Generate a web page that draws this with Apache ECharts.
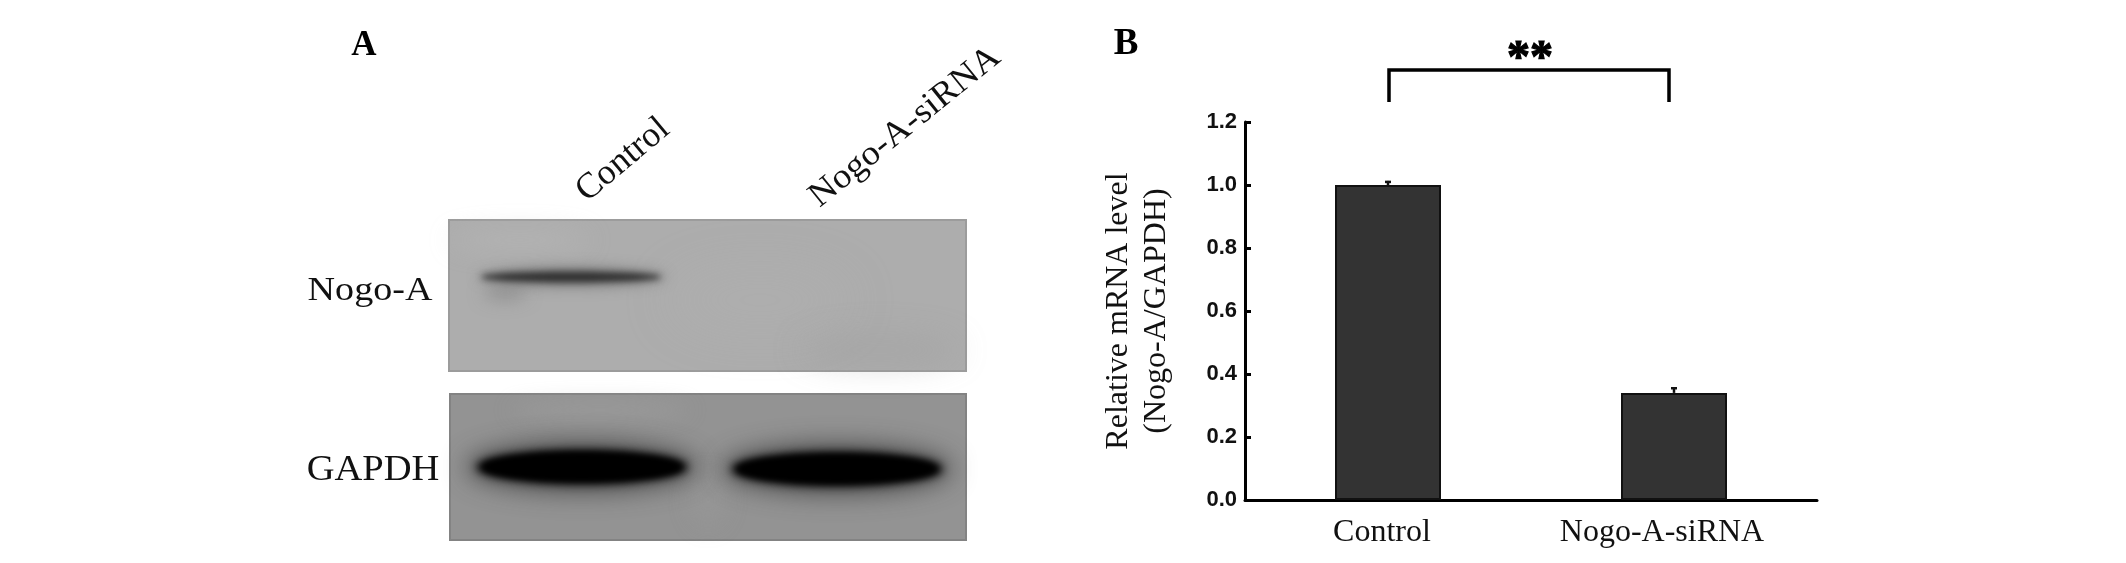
<!DOCTYPE html>
<html><head><meta charset="utf-8">
<style>html,body{margin:0;padding:0;background:#fff}#c{width:2126px;height:563px}</style>
<script src="https://cdn.jsdelivr.net/npm/echarts@6/dist/echarts.min.js"></script>
</head><body><div id="c"></div>
<script>
const categories = ['Control', 'Nogo-A-siRNA'];
const meanValues = [1.0, 0.34];
const errorTops = [1.013, 0.358];
const yTicks = ['0.0', '0.2', '0.4', '0.6', '0.8', '1.0', '1.2'];
const yAxisLines = ['Relative mRNA level', '(Nogo-A/GAPDH)'];

const serif = '"Liberation Serif","Times New Roman",serif';
const chart = echarts.init(document.getElementById('c'), null, {renderer: 'canvas'});

function txt(text, x, y, size, o) {
  o = o || {};
  const style = {text: text, fill: o.fill || '#111', align: 'center', verticalAlign: 'middle',
    font: (o.bold ? 'bold ' : '') + size + 'px ' + serif};
  if (o.stroke) { style.stroke = o.fill || '#111'; style.lineWidth = o.stroke; }
  return {type: 'text', x: x, y: y, rotation: o.rot || 0, scaleX: o.sx || 1, scaleY: 1, z: 20, style: style};
}
// Soft blot smear: the ellipse sits off-canvas and only its blurred shadow lands on the panel.
const OFF = 3000;
function blob(cx, cy, rx, ry, blur, color) {
  return {type: 'ellipse', z: 5, silent: true,
    shape: {cx: cx - OFF, cy: cy, rx: rx, ry: ry},
    style: {fill: '#000', shadowBlur: blur, shadowColor: color, shadowOffsetX: OFF}};
}
function panel(x, y, w, h, fill, edge) {
  return {type: 'rect', z: 1, silent: true, shape: {x: x, y: y, width: w, height: h},
    style: {fill: fill, stroke: edge, lineWidth: 2}};
}

const graphic = [
  panel(449, 220, 517, 151, '#adadad', '#9c9c9c'),
  panel(450, 394, 516, 146, '#939393', '#838383'),
  // mottling of the membranes
  blob(520, 240, 70, 10, 24, 'rgba(190,190,190,0.4)'),
  blob(760, 300, 90, 30, 50, 'rgba(180,180,180,0.3)'),
  blob(880, 350, 80, 16, 30, 'rgba(155,155,155,0.35)'),
  blob(600, 410, 90, 8, 20, 'rgba(165,165,165,0.45)'),
  blob(708, 500, 16, 26, 24, 'rgba(160,160,160,0.3)'),
  // Nogo-A band
  blob(505, 293, 22, 8, 16, 'rgba(130,130,130,0.55)'),
  blob(572, 277, 94, 11, 12, 'rgba(110,110,110,0.6)'),
  blob(571, 277, 90, 5.5, 6, 'rgba(45,45,45,0.95)'),
  // GAPDH bands
  blob(582, 467, 116, 25, 24, 'rgba(50,50,50,0.7)'),
  blob(837, 469, 115, 25, 24, 'rgba(50,50,50,0.7)'),
  blob(582, 467, 106, 17, 10, '#000'),
  blob(837, 469, 106, 17, 10, '#000'),
  blob(582, 467, 100, 14, 6, '#000'),
  blob(837, 469, 100, 14, 6, '#000'),
  // Panel texts
  txt('A', 364, 46, 35, {bold: true, fill: '#000'}),
  txt('B', 1126, 44, 37, {bold: true, fill: '#000'}),
  txt('Nogo-A', 370, 291, 34, {sx: 1.12}),
  txt('GAPDH', 373, 471, 36, {sx: 1.07}),
  txt('Control', 623, 160, 36, {rot: 40 * Math.PI / 180}),
  txt('Nogo-A-siRNA', 905, 127, 35, {rot: 39 * Math.PI / 180, sx: 1.05}),
  // Significance bracket
  {type: 'polyline', z: 20, silent: true,
    shape: {points: [[1389, 102], [1389, 70], [1669, 70], [1669, 102]]},
    style: {stroke: '#000', lineWidth: 3.5, fill: null}},
  txt('**', 1530, 60, 46, {bold: true, fill: '#000', stroke: 1.2})
];

chart.setOption({
  animation: false,
  backgroundColor: '#fff',
  graphic: graphic,
  grid: {left: 1245, top: 122, width: 572, height: 378, containLabel: false},
  xAxis: {
    type: 'category', data: categories,
    axisTick: {show: false},
    axisLine: {lineStyle: {color: '#000', width: 3}},
    axisLabel: {
      interval: 0, hideOverlap: false,
      margin: 17, color: '#111', fontFamily: serif, fontSize: 32,
      formatter: function (v, i) { return '{c' + i + '|' + v + '}'; },
      rich: {
        c0: {padding: [0, 12, 0, 0], fontFamily: serif, fontSize: 32, color: '#111'},
        c1: {padding: [0, 24, 0, 0], fontFamily: serif, fontSize: 32, color: '#111'}
      }
    }
  },
  yAxis: {
    type: 'value', min: 0, max: 1.2, interval: 0.2,
    name: yAxisLines.join('\n'), nameLocation: 'middle', nameRotate: 90, nameGap: 69,
    nameTextStyle: {fontFamily: serif, fontSize: 32, color: '#111', lineHeight: 38},
    splitLine: {show: false},
    axisLine: {show: true, lineStyle: {color: '#000', width: 3}},
    axisTick: {show: true, inside: true, length: 6, lineStyle: {color: '#000', width: 3}},
    axisLabel: {
      margin: 8, color: '#111', fontFamily: '"Liberation Sans",Arial,sans-serif', fontWeight: 'bold', fontSize: 22,
      formatter: function (v) { return yTicks[Math.round(v / 0.2)]; }
    }
  },
  series: [
    {type: 'bar', data: meanValues, barWidth: 106, z: 3,
      itemStyle: {color: '#333333', borderColor: '#111', borderWidth: 2}},
    {type: 'custom', z: 4, data: errorTops.map(function (v, i) { return [i, meanValues[i], v]; }),
      encode: {x: 0, y: [1, 2]},
      renderItem: function (params, api) {
        const base = api.coord([api.value(0), api.value(1)]);
        const top = api.coord([api.value(0), api.value(2)]);
        return {type: 'group', children: [
          {type: 'line', shape: {x1: base[0], y1: base[1], x2: top[0], y2: top[1]},
            style: {stroke: '#111', lineWidth: 2.5}},
          {type: 'line', shape: {x1: top[0] - 3, y1: top[1] + 1, x2: top[0] + 3, y2: top[1] + 1},
            style: {stroke: '#111', lineWidth: 2.5}}
        ]};
      }}
  ]
});
</script></body></html>
